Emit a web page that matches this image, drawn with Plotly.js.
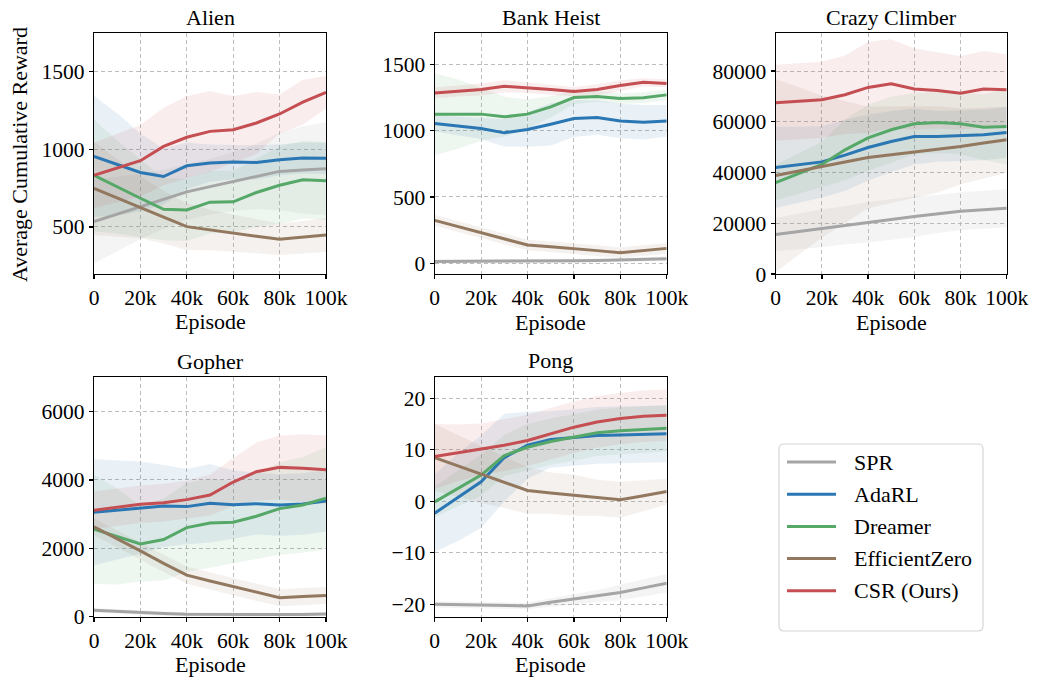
<!DOCTYPE html>
<html>
<head>
<meta charset="utf-8">
<script src="https://cdn.plot.ly/plotly-3.0.1.min.js"></script>
<style>html,body{margin:0;padding:0;background:#fff;}#chart{width:1037px;height:683px;}</style>
</head>
<body>
<div id="chart"></div>
<script>
// ---------- DATA ----------
const episodes = [0, 10000, 20000, 30000, 40000, 50000, 60000, 70000, 80000, 90000, 100000];
const xTickVals = [0, 20000, 40000, 60000, 80000, 100000];
const xTickText = ['0', '20k', '40k', '60k', '80k', '100k'];
const methods = ['SPR', 'AdaRL', 'Dreamer', 'EfficientZero', 'CSR (Ours)'];
const games = ['Alien', 'Bank Heist', 'Crazy Climber', 'Gopher', 'Pong'];

// means, ordered as methods
const alienMeans = [
  [534, 583, 631, 679, 726, 760, 793, 826, 858, 867, 875],
  [955, 903, 851, 825, 894, 912, 918, 916, 933, 944, 942],
  [832, 757, 685, 614, 610, 660, 662, 722, 769, 804, 797],
  [748, 688, 627, 563, 502, 480, 459, 440, 420, 434, 448],
  [832, 879, 927, 1019, 1078, 1116, 1127, 1170, 1228, 1304, 1368]
];
const alienSpreads = [
  [270, 240, 210, 190, 180, 180, 190, 210, 250, 280, 300],
  [390, 330, 250, 180, 150, 120, 110, 110, 100, 100, 100],
  [360, 300, 250, 200, 200, 200, 200, 220, 250, 250, 250],
  [300, 250, 200, 170, 150, 130, 120, 110, 100, 105, 110],
  [210, 220, 230, 250, 265, 260, 215, 200, 125, 145, 105]
];
const bankMeans = [
  [15, 15, 15, 15, 16, 18, 20, 22, 25, 30, 35],
  [1053, 1035, 1016, 983, 1008, 1048, 1091, 1098, 1073, 1063, 1073],
  [1124, 1124, 1124, 1104, 1124, 1179, 1249, 1257, 1242, 1247, 1269],
  [324, 278, 233, 185, 138, 125, 113, 96, 80, 96, 113],
  [1284, 1297, 1309, 1334, 1324, 1309, 1294, 1309, 1339, 1364, 1354]
];
const bankSpreads = [
  [15, 15, 15, 15, 15, 15, 15, 15, 15, 15, 18],
  [60, 70, 80, 105, 130, 160, 140, 130, 130, 130, 120],
  [310, 260, 200, 150, 110, 80, 50, 40, 40, 40, 40],
  [40, 40, 40, 40, 40, 40, 40, 40, 40, 40, 40],
  [40, 40, 45, 45, 40, 35, 35, 40, 40, 30, 30]
];
const crazyMeans = [
  [15530, 16780, 18030, 19210, 20390, 21510, 22630, 23690, 24740, 25330, 25920],
  [41970, 43100, 44200, 46840, 49870, 52240, 54210, 54210, 54470, 54870, 55790],
  [36050, 39600, 43160, 48950, 53680, 56840, 59210, 59740, 59210, 57890, 58160],
  [38820, 40600, 42370, 44150, 45920, 47000, 48030, 49150, 50260, 51600, 52900],
  [67500, 68100, 68700, 70660, 73550, 75000, 72900, 72370, 71300, 72900, 72630]
];
const crazySpreads = [
  [6500, 7000, 7500, 7500, 8000, 8000, 8000, 7500, 7500, 7500, 7500],
  [16000, 15000, 14000, 14000, 13000, 12000, 11000, 10000, 10000, 10000, 10000],
  [7000, 8000, 9000, 12000, 13000, 13000, 12000, 12000, 12000, 13000, 15000],
  [38000, 33000, 28000, 24000, 20000, 19000, 18000, 17000, 15000, 14000, 13000],
  [15000, 15000, 15000, 15500, 18000, 17500, 16000, 15000, 14500, 15000, 14000]
];
const gopherMeans = [
  [185, 150, 117, 90, 68, 63, 58, 54, 49, 63, 78],
  [3053, 3120, 3190, 3235, 3219, 3316, 3277, 3306, 3267, 3296, 3384],
  [2557, 2345, 2130, 2256, 2606, 2742, 2762, 2937, 3160, 3267, 3462],
  [2625, 2280, 1925, 1560, 1215, 1045, 875, 715, 554, 590, 622],
  [3112, 3200, 3287, 3335, 3423, 3559, 3938, 4240, 4366, 4337, 4298]
];
const gopherSpreads = [
  [60, 60, 60, 60, 60, 60, 60, 60, 60, 60, 60],
  [1550, 1450, 1350, 1200, 1100, 1150, 1000, 900, 900, 900, 900],
  [1600, 1400, 1100, 1200, 1300, 1300, 1200, 1250, 1350, 1400, 1500],
  [250, 250, 250, 250, 250, 250, 250, 250, 250, 250, 250],
  [550, 550, 550, 550, 550, 600, 700, 850, 930, 1000, 1000]
];
const pongMeans = [
  [-20.0, -20.1, -20.2, -20.25, -20.3, -19.6, -19.0, -18.4, -17.7, -16.8, -15.9],
  [-2.3, 0.8, 3.8, 8.5, 10.9, 12.0, 12.4, 12.8, 12.9, 13.0, 13.1],
  [-0.1, 2.5, 5.1, 8.9, 10.5, 11.6, 12.4, 13.3, 13.7, 13.9, 14.2],
  [8.5, 6.9, 5.2, 3.7, 2.1, 1.6, 1.2, 0.7, 0.3, 1.1, 1.9],
  [8.7, 9.4, 10.1, 10.9, 11.8, 13.1, 14.4, 15.4, 16.1, 16.5, 16.7]
];
const pongSpreads = [
  [0.6, 0.6, 0.6, 0.6, 0.6, 0.8, 1.0, 1.2, 1.5, 1.7, 1.8],
  [7.5, 8.5, 9.0, 8.5, 6.5, 5.5, 5.5, 5.5, 5.5, 5.5, 5.5],
  [3.0, 3.5, 4.0, 4.0, 4.5, 4.5, 4.5, 4.5, 4.5, 4.5, 4.5],
  [6.5, 6.0, 5.5, 5.0, 4.5, 4.0, 4.0, 3.5, 3.5, 3.0, 2.5],
  [6.3, 5.5, 5.0, 5.0, 5.0, 5.0, 5.0, 5.0, 5.0, 5.0, 5.0]
];

// ---------- STYLE ----------
const lineColors = ['#a5a5a5', '#2a77b4', '#55a868', '#937860', '#c44e52'];
const bandColors = ['rgba(165,165,165,0.12)', 'rgba(42,119,180,0.10)', 'rgba(85,168,104,0.10)', 'rgba(147,120,96,0.10)', 'rgba(196,78,82,0.10)'];
const FONT = 'Liberation Serif';
const LABEL_SIZE = 22, TICK_SIZE = 21.5;
const W = 1037, H = 683;

const panels = [
  {means: alienMeans, spreads: alienSpreads, range: [200, 1750], ticks: [500, 1000, 1500], px: [94, 326], py: [33, 273.5]},
  {means: bankMeans, spreads: bankSpreads, range: [-80, 1735], ticks: [0, 500, 1000, 1500], px: [434.7, 666.7], py: [33, 274]},
  {means: crazyMeans, spreads: crazySpreads, range: [0, 95000], ticks: [0, 20000, 40000, 60000, 80000], px: [775.7, 1006.7], py: [33, 274]},
  {means: gopherMeans, spreads: gopherSpreads, range: [0, 7000], ticks: [0, 2000, 4000, 6000], px: [94, 326], py: [377.3, 616.7]},
  {means: pongMeans, spreads: pongSpreads, range: [-22.4, 24.2], ticks: [-20, -10, 0, 10, 20], px: [434.7, 666.7], py: [376.7, 616.7]}
];

const traces = [];
const layout = {
  width: W, height: H, autosize: false,
  margin: {l: 0, r: 0, t: 0, b: 0},
  paper_bgcolor: '#fff', plot_bgcolor: '#fff',
  font: {family: FONT, size: LABEL_SIZE, color: '#000'},
  showlegend: false,
  annotations: [],
  shapes: []
};

panels.forEach((p, i) => {
  const k = i + 1;
  const xa = k === 1 ? 'x' : 'x' + k;
  const ya = k === 1 ? 'y' : 'y' + k;
  methods.forEach((m, j) => {
    const upper = p.means[j].map((v, t) => v + p.spreads[j][t]);
    const lower = p.means[j].map((v, t) => v - p.spreads[j][t]);
    traces.push({
      x: episodes.concat(episodes.slice().reverse()),
      y: upper.concat(lower.slice().reverse()),
      xaxis: xa, yaxis: ya, type: 'scatter', mode: 'lines',
      fill: 'toself', fillcolor: bandColors[j], line: {width: 0, color: 'rgba(0,0,0,0)'},
      hoverinfo: 'skip', showlegend: false, legendgroup: m
    });
  });
  methods.forEach((m, j) => {
    traces.push({
      x: episodes, y: p.means[j], xaxis: xa, yaxis: ya,
      type: 'scatter', mode: 'lines', name: m, legendgroup: m,
      line: {color: lineColors[j], width: 3},
      showlegend: false
    });
  });
  const axBase = {
    showline: true, mirror: true, linecolor: '#000', linewidth: 1.2,
    ticks: 'outside', ticklen: 4, tickwidth: 1.2, tickcolor: '#000',
    showgrid: true, gridcolor: '#bdbdbd', gridwidth: 1, griddash: '4px,3px',
    zeroline: false, tickfont: {family: FONT, size: TICK_SIZE, color: '#000'}
  };
  layout['xaxis' + (k === 1 ? '' : k)] = Object.assign({}, axBase, {
    domain: [p.px[0] / W, p.px[1] / W], anchor: ya,
    range: [0, 100000], tickvals: xTickVals, ticktext: xTickText
  });
  layout['yaxis' + (k === 1 ? '' : k)] = Object.assign({}, axBase, {
    domain: [1 - p.py[1] / H, 1 - p.py[0] / H], anchor: xa,
    range: p.range, tickvals: p.ticks, tickformat: 'd'
  });
  const cx = (p.px[0] + p.px[1]) / 2 / W;
  layout.annotations.push({
    text: games[i], xref: 'paper', yref: 'paper', x: cx, y: 1 - (p.py[0] - 16) / H,
    xanchor: 'center', yanchor: 'middle', showarrow: false,
    font: {family: FONT, size: LABEL_SIZE, color: '#000'}
  });
  layout.annotations.push({
    text: 'Episode', xref: 'paper', yref: 'paper', x: cx, y: 1 - (p.py[1] + 48) / H,
    xanchor: 'center', yanchor: 'middle', showarrow: false,
    font: {family: FONT, size: LABEL_SIZE, color: '#000'}
  });
});

layout.annotations.push({
  text: 'Average Cumulative Reward', xref: 'paper', yref: 'paper',
  x: 20 / W, y: 1 - 155 / H, xanchor: 'center', yanchor: 'middle',
  textangle: -90, showarrow: false, font: {family: FONT, size: LABEL_SIZE, color: '#000'}
});

// ---------- LEGEND (drawn box, samples and labels) ----------
const legBox = {x0: 779, x1: 983, y0: 444, y1: 631, r: 5};
const bx0 = legBox.x0 / W, bx1 = legBox.x1 / W, by0 = 1 - legBox.y1 / H, by1 = 1 - legBox.y0 / H;
const rx = legBox.r / W, ry = legBox.r / H;
layout.shapes.push({
  type: 'path', xref: 'paper', yref: 'paper',
  path: `M ${bx0 + rx} ${by0} L ${bx1 - rx} ${by0} Q ${bx1} ${by0} ${bx1} ${by0 + ry} L ${bx1} ${by1 - ry} Q ${bx1} ${by1} ${bx1 - rx} ${by1} L ${bx0 + rx} ${by1} Q ${bx0} ${by1} ${bx0} ${by1 - ry} L ${bx0} ${by0 + ry} Q ${bx0} ${by0} ${bx0 + rx} ${by0} Z`,
  line: {color: '#d6d6d6', width: 1.2}, fillcolor: 'rgba(255,255,255,0.8)', layer: 'above'
});
methods.forEach((m, j) => {
  const yc = 1 - (462 + j * 32.2) / H;
  layout.shapes.push({
    type: 'line', xref: 'paper', yref: 'paper', x0: 787 / W, x1: 836 / W, y0: yc, y1: yc,
    line: {color: lineColors[j], width: 3}, layer: 'above'
  });
  layout.annotations.push({
    text: m, xref: 'paper', yref: 'paper', x: 852 / W, y: yc,
    xanchor: 'left', yanchor: 'middle', showarrow: false,
    font: {family: FONT, size: LABEL_SIZE, color: '#000'}
  });
});

Plotly.newPlot('chart', traces, layout, {displayModeBar: false, staticPlot: true});
</script>
</body>
</html>
